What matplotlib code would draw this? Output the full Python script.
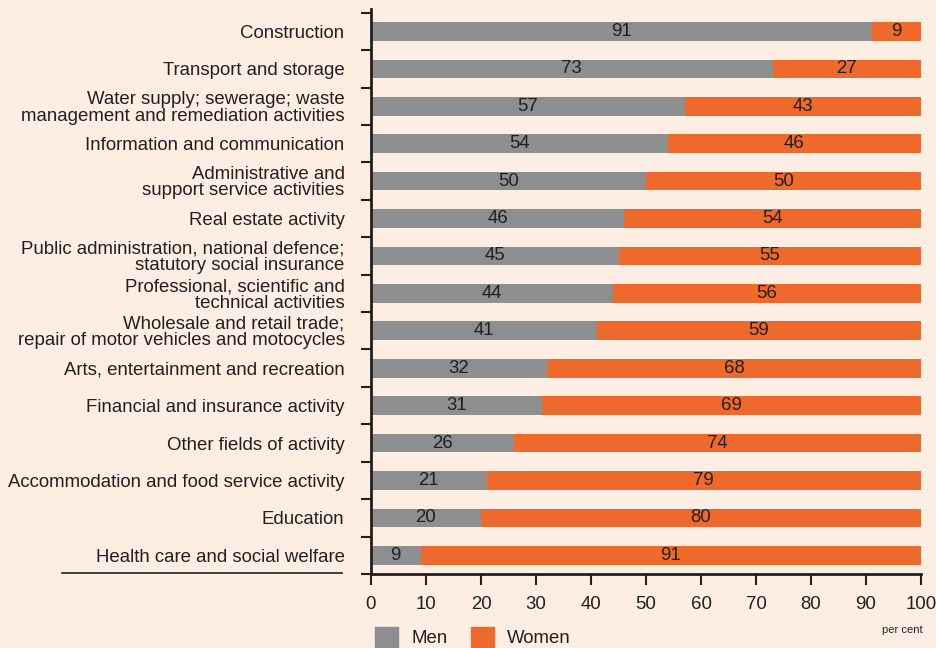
import matplotlib
matplotlib.use("Agg")
import matplotlib.pyplot as plt
import numpy as np
from matplotlib.patches import Patch
from matplotlib.lines import Line2D

categories = [
    "Construction",
    "Transport and storage",
    "Water supply; sewerage; waste\nmanagement and remediation activities",
    "Information and communication",
    "Administrative and\nsupport service activities",
    "Real estate activity",
    "Public administration, national defence;\nstatutory social insurance",
    "Professional, scientific and\ntechnical activities",
    "Wholesale and retail trade;\nrepair of motor vehicles and motocycles",
    "Arts, entertainment and recreation",
    "Financial and insurance activity",
    "Other fields of activity",
    "Accommodation and food service activity",
    "Education",
    "Health care and social welfare",
]
men = [91, 73, 57, 54, 50, 46, 45, 44, 41, 32, 31, 26, 21, 20, 9]
women = [9, 27, 43, 46, 50, 54, 55, 56, 59, 68, 69, 74, 79, 80, 91]
xticks = [0, 10, 20, 30, 40, 50, 60, 70, 80, 90, 100]

bg = "#FDEEE3"
grey = "#8C8E90"
orange = "#EE6A2C"
txt = "#231F20"
fs = 13.4

plt.rcParams["font.family"] = ["Liberation Sans", "DejaVu Sans"]
plt.rcParams["text.color"] = txt

fig = plt.figure(figsize=(9.37, 6.48), dpi=100, facecolor=bg)
ax = fig.add_axes([371 / 937, 1 - 574 / 648, 550 / 937, 565 / 648])
ax.set_facecolor(bg)

y = np.arange(len(categories))
b1 = ax.barh(y, men, height=0.5, color=grey)
b2 = ax.barh(y, women, left=men, height=0.5, color=orange)
ax.bar_label(b1, labels=[str(v) for v in men], label_type="center", fontsize=fs, color=txt)
ax.bar_label(b2, labels=[str(v) for v in women], label_type="center", fontsize=fs, color=txt)

ax.set_xlim(0, 100)
ax.set_ylim(len(categories) - 0.5, -0.6)
ax.set_xticks(xticks)
ax.set_yticks(y)
ax.set_yticklabels(categories, fontsize=fs, multialignment="right", linespacing=0.95)
ax.set_yticks(np.arange(-0.5, len(categories), 1.0), minor=True)
ax.tick_params(axis="y", which="major", length=0, pad=19, colors=txt)
ax.tick_params(axis="y", which="minor", length=7, width=1.5, color=txt)
ax.tick_params(axis="x", length=8, width=1.5, pad=8, labelsize=fs, colors=txt)

for s in ["top", "right"]:
    ax.spines[s].set_visible(False)
for s in ["left", "bottom"]:
    ax.spines[s].set_linewidth(2)
    ax.spines[s].set_color(txt)

# underline under the category labels
fig.add_artist(Line2D([62 / 937, 342 / 937], [1 - 573 / 648] * 2, color=txt, lw=1.2))

fig.text(923 / 937, 1 - 630 / 648, "per cent", fontsize=8, ha="right", va="center")

handles = [Patch(color=grey), Patch(color=orange)]
fig.legend(handles, ["Men", "Women"], loc="center left", bbox_to_anchor=(375 / 937, 1 - 637 / 648),
           ncol=2, frameon=False, fontsize=fs, handlelength=1.25, handleheight=1.25,
           handletextpad=0.7, columnspacing=1.25, borderpad=0, borderaxespad=0)

fig.savefig("out.png", dpi=100, facecolor=bg)
